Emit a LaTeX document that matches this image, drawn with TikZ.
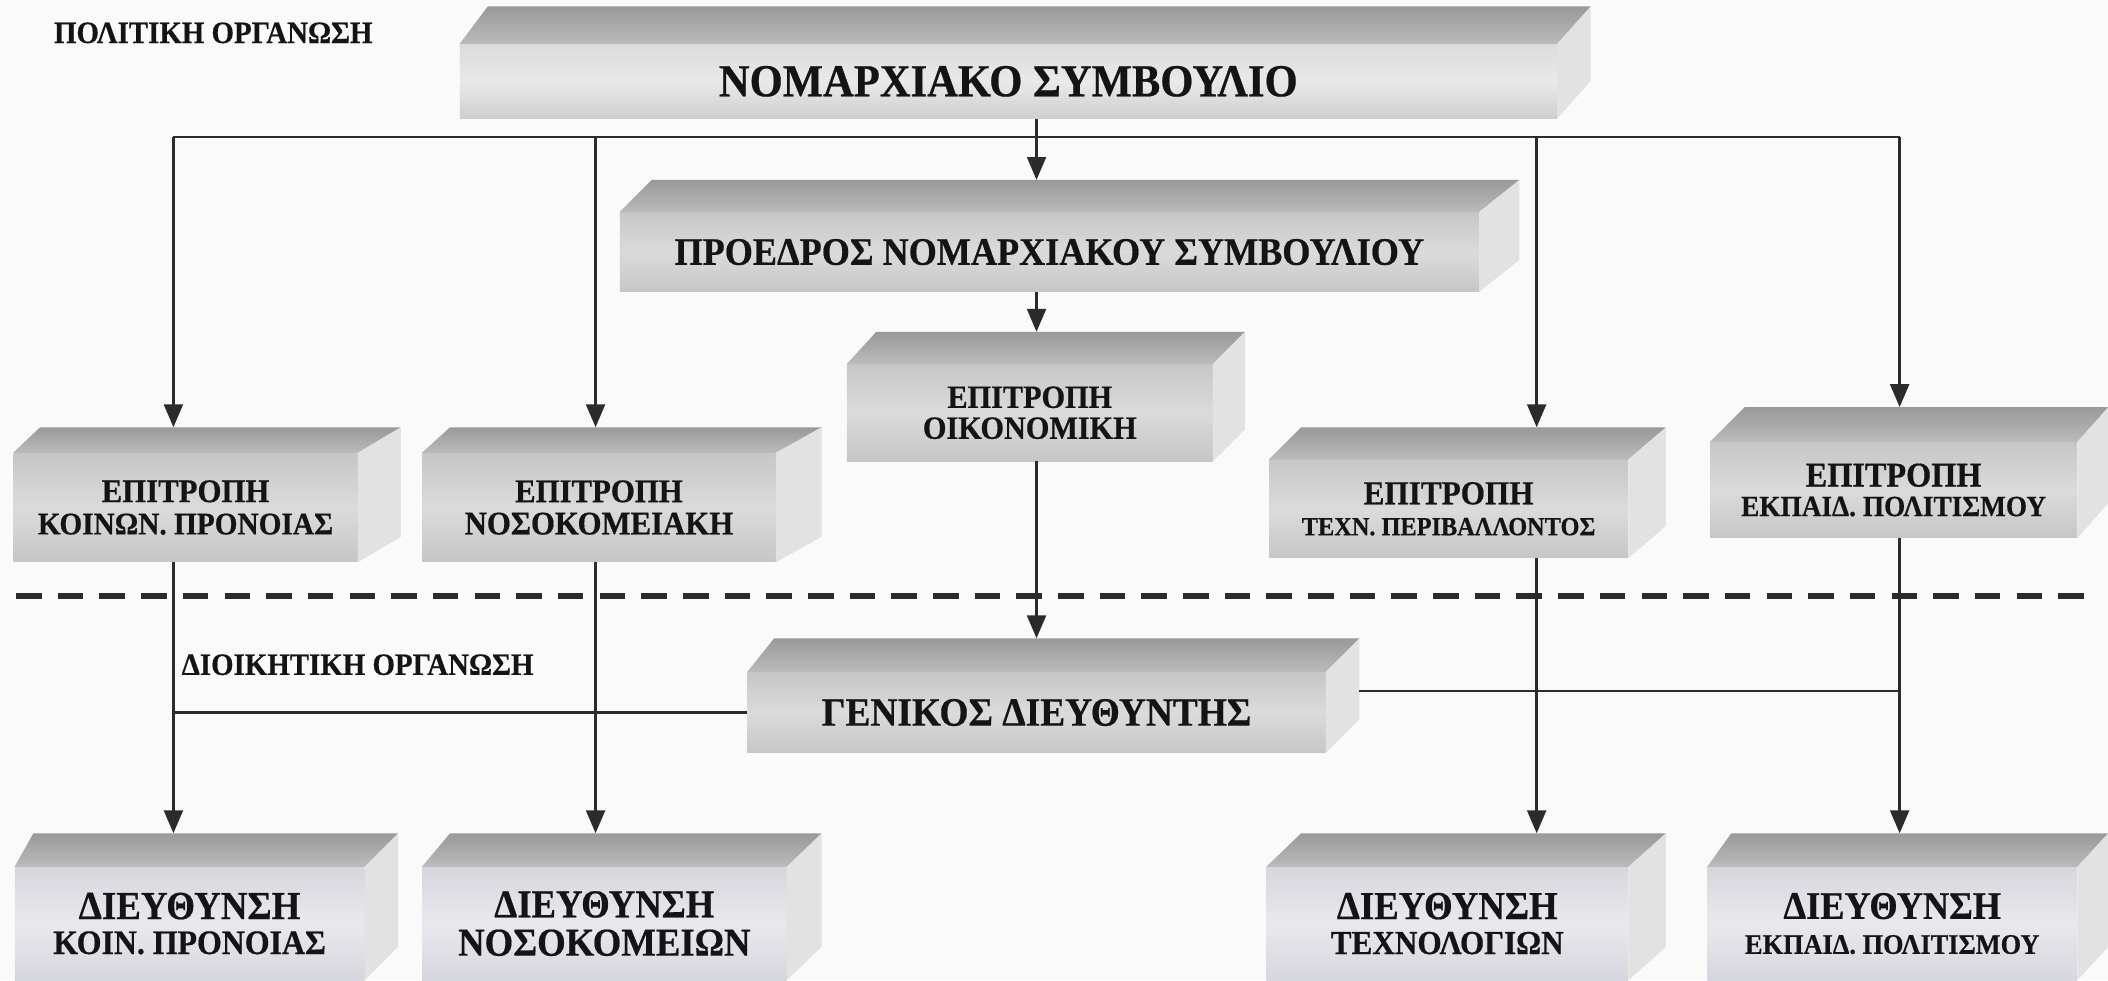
\documentclass[tikz,border=0pt]{standalone}
\usepackage{fontspec}
\setmainfont{Liberation Serif}[FakeStretch=0.93, BoldFeatures={FakeStretch=0.93, FakeBold=0.5}]
\usetikzlibrary{arrows.meta,calc}

\definecolor{paper}{HTML}{FAFAFA}
\definecolor{ink}{HTML}{141414}
\definecolor{wire}{HTML}{2B2B2B}
\definecolor{topdark}{HTML}{999999}
\definecolor{toplight}{HTML}{BBBBBB}
\definecolor{frontedge}{HTML}{C6C6C6}
\definecolor{frontmid}{HTML}{DBDBDB}
\definecolor{sidegray}{HTML}{E2E2E2}
\definecolor{lowfront}{HTML}{D6D6DE}

% font size with a slight enlargement for the narrowed face
\newcommand\fs[2]{\fontsize{\fpeval{#1*1.075}}{#2}\selectfont}

% top and right faces of a slab whose front face is the node #1
% #2: left depth shift, #3: right depth shift, #4: height of the top face
\newcommand\slabfaces[4]{%
  \shade[topface] (#1.north west) -- ++(#2,-#4) -- ($(#1.north east)+(#3,-#4)$) -- (#1.north east) -- cycle;
  \fill[sideface] (#1.north east) -- ($(#1.north east)+(#3,-#4)$) -- ($(#1.south east)+(#3,-#4)$) -- (#1.south east) -- cycle;
  \coordinate (#1top) at ($(#1.north)+(0,-#4)$);
  \coordinate (#1side) at ($(#1.east)+(#3,0)$);
}

\tikzset{
  front/.style={rectangle, inner sep=0pt, text=ink, align=center,
    top color=frontedge, bottom color=frontedge, middle color=frontmid},
  paleslab/.style={front, top color=frontmid, bottom color=frontedge!85, middle color=frontmid!60!white},
  lowslab/.style={front, top color=lowfront, bottom color=lowfront, middle color=lowfront!55!white},
  topface/.style={top color=topdark, bottom color=toplight},
  sideface/.style={fill=sidegray},
  wireline/.style={draw=wire, line width=1.9pt},
  arr/.style={wireline, -{Triangle[width=14pt,length=17pt]}},
  divider/.style={draw=wire, line width=4.5pt, dash pattern=on 19pt off 12pt},
  caption/.style={text=ink, font=\bfseries\fs{21.5}{23}, anchor=base west, inner sep=0pt},
}

\begin{document}
\begin{tikzpicture}[x=1pt,y=-1pt]
\useasboundingbox (0,0) rectangle (1568,729);
\clip (0,0) rectangle (1568,729);
\fill[paper] (0,0) rectangle (1568,729);

% column positions of the vertical connectors and heights of the buses
\coordinate (c1) at (129,0);
\coordinate (c2) at (443,0);
\coordinate (c3) at (771,0);
\coordinate (c4) at (1143,0);
\coordinate (c5) at (1413,0);
\coordinate (topbus) at (0,102);
\coordinate (lbus) at (0,530);
\coordinate (rbus) at (0,514);
\coordinate (dashL) at (12,443);
\coordinate (dashR) at (1550,443);

% political level
\node[paleslab, minimum width=816pt, minimum height=55pt, font=\bfseries\fs{31.7}{34}] (A) at (750,60.5) {ΝΟΜΑΡΧΙΑΚΟ ΣΥΜΒΟΥΛΙΟ};
\slabfaces{A}{21}{25}{28}

\node[front, minimum width=639pt, minimum height=59pt, font=\bfseries\fs{26.9}{29}] (B) at (780.5,187.5) {ΠΡΟΕΔΡΟΣ ΝΟΜΑΡΧΙΑΚΟΥ ΣΥΜΒΟΥΛΙΟΥ};
\slabfaces{B}{24}{30}{24}

\node[front, minimum width=272pt, minimum height=72pt, font=\bfseries\fs{22.5}{23}] (C) at (766,307) {ΕΠΙΤΡΟΠΗ\\ΟΙΚΟΝΟΜΙΚΗ};
\slabfaces{C}{22}{24}{24}

\node[front, minimum width=256pt, minimum height=81pt, font=\bfseries\fs{22.9}{24}] (k1) at (138,377.5) {ΕΠΙΤΡΟΠΗ\\{\fs{21.8}{24}ΚΟΙΝΩΝ. ΠΡΟΝΟΙΑΣ}};
\slabfaces{k1}{20}{32}{19}

\node[front, minimum width=263pt, minimum height=81pt, font=\bfseries\fs{22.9}{24}] (k2) at (445.5,377.5) {ΕΠΙΤΡΟΠΗ\\ΝΟΣΟΚΟΜΕΙΑΚΗ};
\slabfaces{k2}{21}{34}{19}

\node[front, minimum width=267pt, minimum height=73pt, font=\bfseries\fs{23.2}{23}] (k4) at (1077.5,378.5) {ΕΠΙΤΡΟΠΗ\\{\fs{18.1}{23}ΤΕΧΝ. ΠΕΡΙΒΑΛΛΟΝΤΟΣ}};
\slabfaces{k4}{24}{28}{24}

\node[front, minimum width=273pt, minimum height=71pt, font=\bfseries\fs{24}{22}] (k5) at (1408.5,364.5) {ΕΠΙΤΡΟΠΗ\\{\fs{20.3}{22}ΕΚΠΑΙΔ. ΠΟΛΙΤΙΣΜΟΥ}};
\slabfaces{k5}{26}{23}{26}

% administrative level
\node[front, minimum width=430pt, minimum height=60pt, font=\bfseries\fs{27.8}{30}] (D) at (771,530) {ΓΕΝΙΚΟΣ ΔΙΕΥΘΥΝΤΗΣ};
\slabfaces{D}{20}{25}{25}

\node[lowslab, minimum width=260pt, minimum height=84pt, font=\bfseries\fs{27.5}{26}] (k6) at (141,687) {ΔΙΕΥΘΥΝΣΗ\\{\fs{23.7}{26}ΚΟΙΝ. ΠΡΟΝΟΙΑΣ}};
\slabfaces{k6}{14}{25}{25}

\node[lowslab, minimum width=271pt, minimum height=84pt, font=\bfseries\fs{27.3}{28.5}] (k7) at (449.5,687) {ΔΙΕΥΘΥΝΣΗ\\ΝΟΣΟΚΟΜΕΙΩΝ};
\slabfaces{k7}{21}{26}{25}

\node[lowslab, minimum width=269pt, minimum height=84pt, font=\bfseries\fs{27.4}{26}] (k8) at (1076.5,687) {ΔΙΕΥΘΥΝΣΗ\\{\fs{23.2}{26}ΤΕΧΝΟΛΟΓΙΩΝ}};
\slabfaces{k8}{26}{28}{25}

\node[lowslab, minimum width=275pt, minimum height=84pt, font=\bfseries\fs{27}{26}] (k9) at (1407.5,687) {ΔΙΕΥΘΥΝΣΗ\\{\fs{19.6}{26}ΕΚΠΑΙΔ. ΠΟΛΙΤΙΣΜΟΥ}};
\slabfaces{k9}{18}{23}{25}

% connectors of the political level
\draw[wireline] (c1 |- topbus) -- (c5 |- topbus);
\draw[arr] (c3 |- A.south) -- (c3 |- Btop);
\draw[arr] (c1 |- topbus) -- (c1 |- k1top);
\draw[arr] (c2 |- topbus) -- (c2 |- k2top);
\draw[arr] (c4 |- topbus) -- (c4 |- k4top);
\draw[arr] (c5 |- topbus) -- (c5 |- k5top);
\draw[arr] (c3 |- B.south) -- (c3 |- Ctop);
\draw[arr] (c3 |- C.south) -- (c3 |- Dtop);

% connectors of the administrative level
\draw[wireline] (D.west |- lbus) -- (c1 |- lbus);
\draw[wireline] (Dside |- rbus) -- (c5 |- rbus);
\draw[arr] (c1 |- k1.south) -- (c1 |- k6top);
\draw[arr] (c2 |- k2.south) -- (c2 |- k7top);
\draw[arr] (c4 |- k4.south) -- (c4 |- k8top);
\draw[arr] (c5 |- k5.south) -- (c5 |- k9top);

% boundary between the two levels
\draw[divider] (dashL) -- (dashR);

\node[caption] (pol) at (40,32) {ΠΟΛΙΤΙΚΗ ΟΡΓΑΝΩΣΗ};
\node[caption] (adm) at (135,502) {ΔΙΟΙΚΗΤΙΚΗ ΟΡΓΑΝΩΣΗ};
\end{tikzpicture}
\end{document}
